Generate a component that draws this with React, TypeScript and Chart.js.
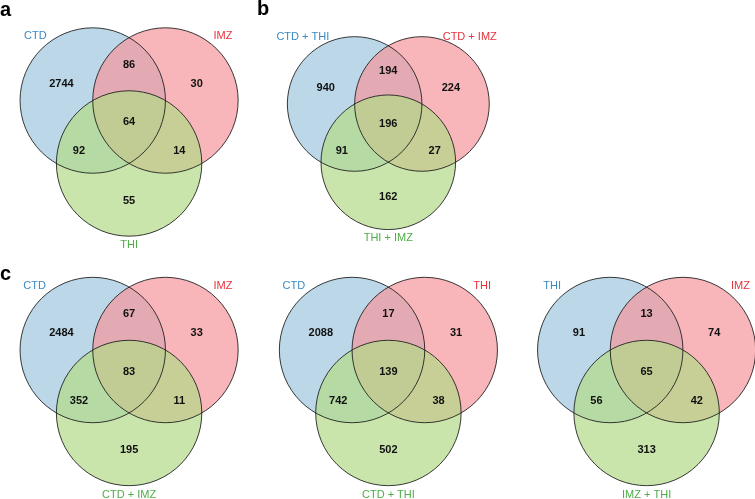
import React, { useEffect, useRef } from 'react';
import { Chart, registerables } from 'chart.js';

Chart.register(...registerables);

// Region order: only set1, only set2, only set3, 1&2, 1&3, 2&3, 1&2&3
const namesA = ['CTD', 'IMZ', 'THI'];
const countsA = [2744, 30, 55, 86, 92, 14, 64];

const namesB = ['CTD + THI', 'CTD + IMZ', 'THI + IMZ'];
const countsB = [940, 224, 162, 194, 91, 27, 196];

const namesC1 = ['CTD', 'IMZ', 'CTD + IMZ'];
const countsC1 = [2484, 33, 195, 67, 352, 11, 83];

const namesC2 = ['CTD', 'THI', 'CTD + THI'];
const countsC2 = [2088, 31, 502, 17, 742, 38, 139];

const namesC3 = ['THI', 'IMZ', 'IMZ + THI'];
const countsC3 = [91, 74, 313, 13, 56, 42, 65];

// Venn geometry in units of circle radius, origin at the centroid of the three centres
const circleX = [-0.5, 0.5, 0];
const circleY = [-0.2887, -0.2887, 0.5774];
const regionX = [-0.93, 0.93, 0, 0, -0.69, 0.69, 0];
const regionY = [-0.52, -0.52, 1.09, -0.78, 0.41, 0.41, 0.01];

const fillColors = ['rgba(159,199,222,0.7)', 'rgba(245,149,156,0.7)', 'rgba(178,218,136,0.7)'];
const labelColors = ['#3a8ac6', '#e6323c', '#4dae48'];
const FONT = '"Liberation Sans", Arial, sans-serif';

type Panel = {
  letter: string;
  letterPos: [number, number];
  names: string[];
  counts: number[];
  box: [number, number, number, number];
  center: [number, number];
  scale: number;
  labelX: number[];
  labelY: number[];
};

const panels: Panel[] = [
  {
    letter: 'a', letterPos: [0, 16], names: namesA, counts: countsA,
    box: [0, 0, 250, 250], center: [129.1, 121.5], scale: 72.7,
    labelX: [-1.29, 1.29, 0], labelY: [-1.18, -1.18, 1.7],
  },
  {
    letter: 'b', letterPos: [257, 15], names: namesB, counts: namesB ? countsB : [],
    box: [250, 0, 260, 250], center: [388.3, 123.4], scale: 67.3,
    labelX: [-1.27, 1.21, 0], labelY: [-1.28, -1.28, 1.7],
  },
  {
    letter: 'c', letterPos: [0, 280], names: namesC1, counts: countsC1,
    box: [0, 250, 250, 249], center: [129.1, 371], scale: 72.7,
    labelX: [-1.3, 1.29, 0], labelY: [-1.17, -1.17, 1.7],
  },
  {
    letter: '', letterPos: [0, 0], names: namesC2, counts: countsC2,
    box: [250, 250, 260, 249], center: [388.4, 371], scale: 72.7,
    labelX: [-1.3, 1.29, 0], labelY: [-1.17, -1.17, 1.7],
  },
  {
    letter: '', letterPos: [0, 0], names: namesC3, counts: countsC3,
    box: [510, 250, 245, 249], center: [646.6, 371], scale: 72.7,
    labelX: [-1.3, 1.29, 0], labelY: [-1.17, -1.17, 1.7],
  },
];

function VennPanel({ panel }: { panel: Panel }) {
  const ref = useRef<HTMLCanvasElement | null>(null);
  useEffect(() => {
    const canvas = ref.current;
    if (!canvas) return;
    const [left, top, w, h] = panel.box;
    const [cx, cy] = panel.center;
    const s = panel.scale;
    const pts = circleX.map((x, i) => ({ x, y: circleY[i] }));
    const radius = (ctx: any) => {
      const xs = ctx.chart.scales.x;
      return Math.abs(xs.getPixelForValue(1) - xs.getPixelForValue(0));
    };
    const textPlugin = {
      id: 'vennText',
      afterDatasetsDraw(chart: any) {
        const c = chart.ctx;
        const xs = chart.scales.x;
        const ys = chart.scales.y;
        c.save();
        c.textAlign = 'center';
        c.textBaseline = 'middle';
        c.font = `bold 11px ${FONT}`;
        c.fillStyle = '#111111';
        panel.counts.forEach((v, i) => {
          c.fillText(String(v), xs.getPixelForValue(regionX[i]), ys.getPixelForValue(regionY[i]));
        });
        c.font = `11px ${FONT}`;
        panel.names.forEach((n, i) => {
          c.fillStyle = labelColors[i];
          c.fillText(n, xs.getPixelForValue(panel.labelX[i]), ys.getPixelForValue(panel.labelY[i]));
        });
        if (panel.letter) {
          c.font = `bold 20px ${FONT}`;
          c.fillStyle = '#000000';
          c.textAlign = 'left';
          c.textBaseline = 'alphabetic';
          c.fillText(panel.letter, panel.letterPos[0] - left, panel.letterPos[1] - top);
        }
        c.restore();
      },
    };
    const chart = new Chart(canvas, {
      type: 'scatter',
      data: {
        datasets: [
          {
            data: pts,
            backgroundColor: fillColors,
            borderWidth: 0,
            pointBorderWidth: 0,
            pointRadius: radius,
            order: 1,
          } as any,
          {
            data: pts,
            backgroundColor: 'rgba(0,0,0,0)',
            borderColor: 'rgba(25,25,25,0.85)',
            pointBorderWidth: 1,
            pointRadius: radius,
            order: 0,
          } as any,
        ],
      },
      options: {
        animation: false,
        responsive: false,
        events: [],
        layout: { padding: 0 },
        scales: {
          x: { type: 'linear', display: false, min: (left - cx) / s, max: (left + w - cx) / s },
          y: { type: 'linear', display: false, reverse: true, min: (top - cy) / s, max: (top + h - cy) / s },
        },
        plugins: { legend: { display: false }, tooltip: { enabled: false } },
      },
      plugins: [textPlugin],
    });
    return () => chart.destroy();
  }, [panel]);
  const [left, top, w, h] = panel.box;
  return (
    <canvas
      ref={ref}
      width={w}
      height={h}
      style={{ position: 'absolute', left, top, width: w, height: h }}
    />
  );
}

export default function App() {
  useEffect(() => {
    document.body.style.margin = '0';
    document.body.style.background = '#ffffff';
  }, []);
  return (
    <div style={{ position: 'relative', width: 755, height: 499, background: '#ffffff', overflow: 'hidden' }}>
      {panels.map((p, i) => (
        <VennPanel key={i} panel={p} />
      ))}
    </div>
  );
}
